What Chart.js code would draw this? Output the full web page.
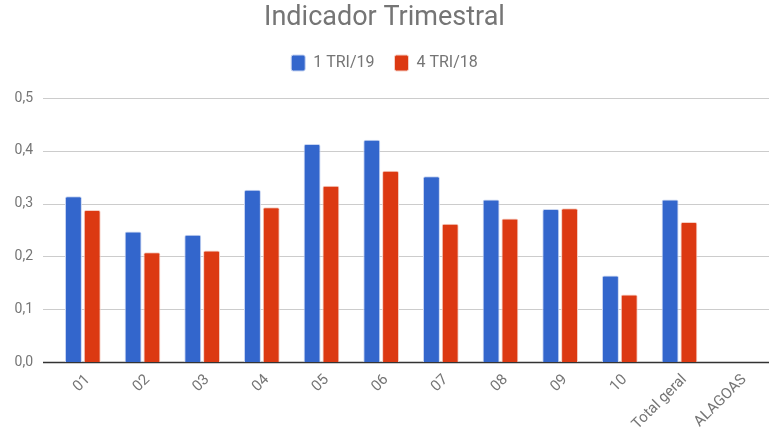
<!DOCTYPE html>
<html>
<head>
<meta charset="utf-8">
<script src="https://cdn.jsdelivr.net/npm/chart.js@4/dist/chart.umd.min.js"></script>
<style>
html,body{margin:0;padding:0;background:#fff;}
#wrap{width:775px;height:439px;position:relative;}
</style>
</head>
<body>
<div id="wrap"><canvas id="c"></canvas></div>
<script>
const categories = ["01","02","03","04","05","06","07","08","09","10","Total geral","ALAGOAS"];
const series1Name = "1 TRI/19";
const series1 = [0.314,0.247,0.241,0.326,0.413,0.421,0.352,0.308,0.290,0.164,0.308,null];
const series2Name = "4 TRI/18";
const series2 = [0.288,0.208,0.211,0.293,0.334,0.362,0.262,0.272,0.291,0.128,0.265,null];
const yTicks = [0,0.1,0.2,0.3,0.4,0.5];

const gridPlugin = {
  id:'gridPlugin',
  beforeInit(chart){
    const fit = chart.legend.fit;
    chart.legend.fit = function(){ fit.bind(this)(); this.height = 63; };
  },
  beforeDatasetsDraw(chart){
    const {ctx, chartArea, scales:{y}} = chart;
    ctx.save();
    yTicks.forEach(v=>{
      const py = Math.round(y.getPixelForValue(v)) + 0.5;
      ctx.beginPath();
      if(v===0){ctx.strokeStyle='#333333';ctx.lineWidth=1.5;}
      else {ctx.strokeStyle='#cccccc';ctx.lineWidth=1;}
      ctx.moveTo(43, py);
      ctx.lineTo(chartArea.right, py);
      ctx.stroke();
    });
    ctx.restore();
  }
};

new Chart(document.getElementById('c'), {
  type:'bar',
  data:{
    labels: categories,
    datasets:[
      {label:series1Name, data:series1, backgroundColor:'#3366cc', borderColor:'#c9d6f2', borderWidth:1, borderRadius:2, borderSkipped:'bottom'},
      {label:series2Name, data:series2, backgroundColor:'#dc3912', borderColor:'#f5cfc4', borderWidth:1, borderRadius:2, borderSkipped:'bottom'}
    ]
  },
  options:{
    responsive:true,
    maintainAspectRatio:false,
    animation:false,
    layout:{padding:{left:0,right:6,top:0,bottom:0}},
    datasets:{bar:{categoryPercentage:0.63,barPercentage:0.9}},
    plugins:{
      title:{display:true,text:'Indicador Trimestral',color:'#757575',
        font:{family:'Roboto',size:27,weight:'normal',lineHeight:1.0},padding:{top:5,bottom:3}},
      legend:{display:true,position:'top',
        labels:{color:'#757575',font:{family:'Roboto',size:16},boxWidth:14,boxHeight:16,padding:20,
          useBorderRadius:true,borderRadius:2}},
      tooltip:{enabled:false}
    },
    scales:{
      x:{
        grid:{display:false,drawTicks:false},
        border:{display:false},
        ticks:{color:'#757575',font:{family:'Roboto',size:15},maxRotation:45,minRotation:45,autoSkip:false,padding:9,labelOffset:5},
        afterFit(s){ s.height = 77; }
      },
      y:{
        min:0,max:0.5,
        grid:{display:false,drawTicks:false},
        border:{display:false},
        afterBuildTicks(s){ s.ticks = yTicks.map(v=>({value:v})); },
        ticks:{color:'#757575',font:{family:'Roboto',size:14},padding:20,
          callback:(v)=>Number(v).toFixed(1).replace('.',',')},
        afterFit(s){ s.width = 53; }
      }
    }
  },
  plugins:[gridPlugin]
});
</script>
</body>
</html>
